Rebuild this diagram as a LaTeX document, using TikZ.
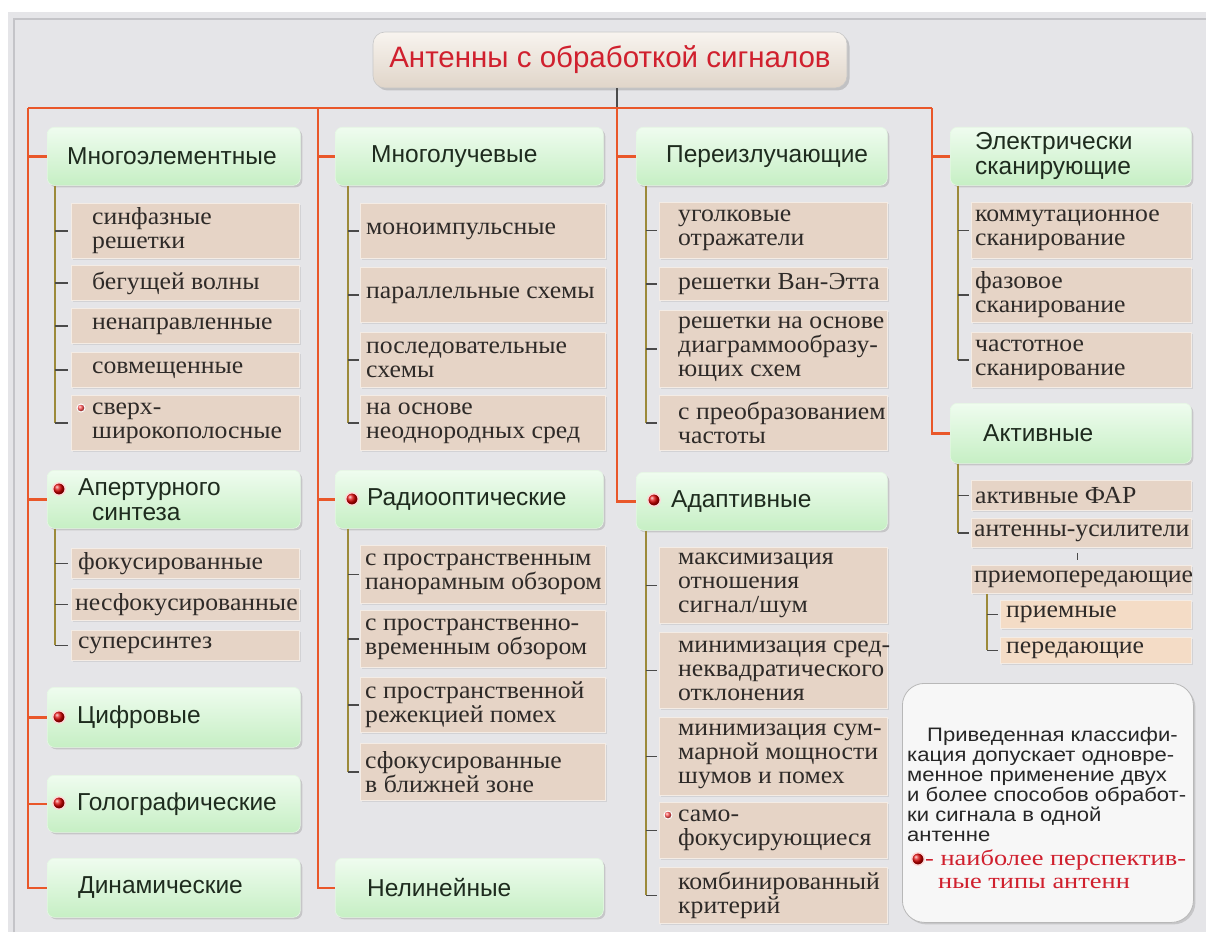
\documentclass[tikz,border=0pt]{standalone}
\usepackage{fontspec}
\setmainfont{Liberation Serif}[FakeStretch=1.05]
\setsansfont{Liberation Sans}
\newfontfamily\notesans{Liberation Sans}[FakeStretch=1.13]
\newfontfamily\noteserif{Liberation Serif}[FakeStretch=1.2]
\usetikzlibrary{shadows,calc}
\definecolor{bgc}{HTML}{E5E5E8}
\definecolor{framec}{HTML}{C4C4C8}
\definecolor{orl}{HTML}{E9572A}
\definecolor{olv}{HTML}{9C8A3A}
\definecolor{stubc}{HTML}{4A4A4A}
\definecolor{leafc}{HTML}{E6D4C6}
\definecolor{leafcb}{HTML}{F4DCC6}
\definecolor{hgtop}{HTML}{EFFCEF}
\definecolor{hgbot}{HTML}{C6EFC4}
\definecolor{htext}{HTML}{1E2B1E}
\definecolor{ttop}{HTML}{F8F4EF}
\definecolor{tbot}{HTML}{E0D5C9}
\definecolor{tred}{HTML}{D0202E}
\definecolor{ltext}{HTML}{2E2A28}
\definecolor{notefill}{HTML}{F7F7F7}
\newcommand\leaffont{\fontsize{24.5}{24}\selectfont}
\newcommand\headfont{\sffamily\fontsize{24.5}{25}\selectfont}
\newcommand\mkleaf[7]{%
  \node[leafbox, minimum width=#4pt, minimum height=#5pt] (#1) at (#2,#3) {};
  \node[leaftxt] (#1t) at ([xshift=#6pt]#1.west) {#7};}
\newcommand\mkleafb[7]{%
  \node[leafbox, fill=leafcb, minimum width=#4pt, minimum height=#5pt] (#1) at (#2,#3) {};
  \node[leaftxt] (#1t) at ([xshift=#6pt]#1.west) {#7};}
\newcommand\mkhead[7]{%
  \node[head, minimum width=#4pt, minimum height=#5pt] (#1) at (#2,#3) {};
  \node[headtxt] (#1t) at ([xshift=#6pt]#1.west) {#7};}
\tikzset{
  head/.style={rounded corners=7pt, top color=hgtop, bottom color=hgbot,
    draw=white!55!hgbot, line width=0.6pt, anchor=north west, inner sep=0pt,
    drop shadow={shadow xshift=2pt, shadow yshift=-2pt, opacity=0.3}},
  headtxt/.style={font=\headfont, text=htext, align=left, inner sep=0pt, anchor=west},
  leafbox/.style={fill=leafc, draw=white!55!leafc, line width=0.8pt, anchor=north west,
    inner sep=0pt, drop shadow={shadow xshift=1.2pt, shadow yshift=-1.2pt, opacity=0.18}},
  leaftxt/.style={font=\leaffont, text=ltext, align=left, inner sep=0pt, anchor=west},
  trunk/.style={draw=orl, line width=2.6pt},
  sub/.style={draw=olv, line width=1.6pt},
  stub/.style={draw=stubc, line width=1.2pt},
  bul/.style={circle, inner sep=0pt, minimum size=12.5pt, ball color=red!85!black,
    draw=white!85!red, line width=1.4pt},
  sbul/.style={circle, inner sep=0pt, minimum size=8pt, ball color=red!70!white,
    draw=white, line width=1pt},
}
\begin{document}
\begin{tikzpicture}[x=1pt,y=-1pt]
\useasboundingbox (0,0) rectangle (1206,936);
% background
\fill[white] (0,0) rectangle (1206,936);
\fill[bgc] (8,12) rectangle (1206,932);
\draw[framec, line width=2.5pt] (14,932) -- (14,19) -- (1206,19);

% title
\node[rounded corners=12pt, top color=ttop, bottom color=tbot, draw=black!22,
  line width=0.6pt, minimum width=474pt, minimum height=56pt, inner sep=0pt,
  drop shadow={shadow xshift=2.5pt, shadow yshift=-2.5pt, opacity=0.35},
  font=\sffamily\fontsize{29.5}{30}\selectfont, text=tred] (title) at (610,60)
  {Антенны с обработкой сигналов};

% ---------- column 1 ----------
\mkhead{mno}{47}{127}{253}{58}{20}{Многоэлементные}
\mkleaf{la}{71}{203}{228}{55}{21}{синфазные\\решетки}
\mkleaf{lb}{71}{265}{228}{35}{21}{бегущей волны}
\mkleaf{lc}{71}{308}{228}{35}{21}{ненаправленные}
\mkleaf{ld}{71}{352}{228}{35}{21}{совмещенные}
\mkleaf{le}{71}{395}{228}{55}{21}{сверх-\\широкополосные}
\mkhead{apt}{47}{470}{253}{58}{31}{Апертурного\\\hspace*{14pt}синтеза}
\mkleaf{lf}{71}{548}{228}{30}{7}{фокусированные}
\mkleaf{lg}{71}{588}{228}{32}{4}{несфокусированные}
\mkleaf{lh}{71}{630}{228}{30}{7}{суперсинтез}
\mkhead{cif}{47}{687}{253}{60}{30}{Цифровые}
\mkhead{gol}{47}{775}{253}{57}{30}{Голографические}
\mkhead{dyn}{47}{858}{253}{59}{31}{Динамические}

% ---------- column 2 ----------
\mkhead{mlu}{335}{127}{268}{58}{36}{Многолучевые}
\mkleaf{ma}{360}{203}{245}{55}{6}{моноимпульсные}
\mkleaf{mb}{360}{267}{245}{55}{6}{параллельные схемы}
\mkleaf{mc}{360}{332}{245}{55}{6}{последовательные\\схемы}
\mkleaf{md}{360}{395}{245}{55}{6}{на основе\\неоднородных сред}
\mkhead{rad}{335}{470}{268}{58}{32}{Радиооптические}
\mkleaf{ra}{360}{545}{245}{58}{5}{с пространственным\\панорамным обзором}
\mkleaf{rb}{360}{610}{245}{57}{5}{с пространственно-\\временным обзором}
\mkleaf{rc}{360}{677}{245}{55}{5}{с пространственной\\режекцией помех}
\mkleaf{rd}{360}{743}{245}{57}{5}{сфокусированные\\в ближней зоне}
\mkhead{nel}{335}{858}{268}{59}{32}{Нелинейные}

% ---------- column 3 ----------
\mkhead{per}{636}{127}{251}{58}{30}{Переизлучающие}
\mkleaf{pa}{659}{202}{228}{56}{19}{уголковые\\отражатели}
\mkleaf{pb}{659}{267}{228}{33}{19}{решетки Ван-Этта}
\mkleaf{pc}{659}{310}{228}{77}{19}{решетки на основе\\диаграммообразу-\\ющих схем}
\mkleaf{pd}{659}{395}{228}{55}{19}{с преобразованием\\частоты}
\mkhead{ada}{636}{472}{251}{58}{35}{Адаптивные}
\mkleaf{aa}{659}{547}{228}{76}{19}{максимизация\\отношения\\сигнал/шум}
\mkleaf{ab}{659}{632}{228}{76}{19}{минимизация сред-\\неквадратического\\отклонения}
\mkleaf{ac}{659}{717}{228}{78}{19}{минимизация сум-\\марной мощности\\шумов и помех}
\mkleaf{ad}{659}{802}{228}{56}{19}{само-\\фокусирующиеся}
\mkleaf{ae}{659}{867}{228}{56}{19}{комбинированный\\критерий}

% ---------- column 4 ----------
\mkhead{ele}{950}{127}{241}{58}{25}{Электрически\\сканирующие}
\mkleaf{ea}{971}{202}{220}{56}{4}{коммутационное\\сканирование}
\mkleaf{eb}{971}{267}{220}{55}{4}{фазовое\\сканирование}
\mkleaf{ec}{971}{332}{220}{55}{4}{частотное\\сканирование}
\mkhead{akt}{950}{403}{241}{60}{33}{Активные}
\mkleaf{ka}{971}{480}{220}{30}{4}{активные ФАР}
\mkleaf{kb}{971}{518}{220}{29}{3}{антенны-усилители}
\mkleaf{kc}{971}{565}{220}{28}{3}{приемопередающие}
\mkleafb{kd}{1000}{600}{191}{28}{6}{приемные}
\mkleafb{ke}{1000}{637}{191}{26}{6}{передающие}

% bullets
\node[bul] (b1) at (59,489) {};
\node[bul] (b2) at (352,499) {};
\node[bul] (b3) at (59,717) {};
\node[bul] (b4) at (59,803) {};
\node[bul] (b5) at (654,500) {};
\node[sbul] (b6) at (81,408) {};
\node[sbul] (b7) at (668,815) {};

% ---------- orange trunks ----------
\coordinate (tL) at (28,108);
\coordinate (t2) at (318,108);
\coordinate (t3) at (617,108);
\coordinate (tR) at (932,108);
\draw[black!70, line width=1.2pt] (title.south -| t3) -- (t3);
\draw[trunk] (tL) -- (tR);
\draw[trunk] (tL) |- (dyn.west);
\draw[trunk] (t2) |- (nel.west);
\draw[trunk] (t3) |- (ada.west);
\draw[trunk] (tR) |- (akt.west);
\foreach \n in {mno,apt,cif,gol} \draw[trunk] (tL |- \n.west) -- (\n.west);
\foreach \n in {mlu,rad} \draw[trunk] (t2 |- \n.west) -- (\n.west);
\draw[trunk] (t3 |- per.west) -- (per.west);
\draw[trunk] (tR |- ele.west) -- (ele.west);

% ---------- sub branches ----------
\coordinate (v1) at (55,0);
\coordinate (v2) at (348,0);
\coordinate (v3) at (646,0);
\coordinate (v4) at (958,0);
\coordinate (v5) at (987,0);
\draw[sub] (v1 |- mno.south) -- (v1 |- le.west);
\draw[sub] (v1 |- apt.south) -- (v1 |- lh.west);
\draw[sub] (v2 |- mlu.south) -- (v2 |- md.west);
\draw[sub] (v2 |- rad.south) -- (v2 |- rd.west);
\draw[sub] (v3 |- per.south) -- (v3 |- pd.west);
\draw[sub] (v3 |- ada.south) -- (v3 |- ae.west);
\draw[sub] (v4 |- ele.south) -- (v4 |- ec.west);
\draw[sub] (v4 |- akt.south) -- (v4 |- kb.west);
\draw[sub] (v5 |- kc.south) -- (v5 |- ke.west);
\foreach \n in {la,lb,lc,ld,le,lf,lg,lh} \draw[stub] (v1 |- \n.west) -- ([xshift=-3pt]\n.west);
\foreach \n in {ma,mb,mc,md,ra,rb,rc,rd} \draw[stub] (v2 |- \n.west) -- ([xshift=-1pt]\n.west);
\foreach \n in {pa,pb,pc,pd,aa,ab,ac,ad,ae} \draw[stub] (v3 |- \n.west) -- ([xshift=-2pt]\n.west);
\foreach \n in {ea,eb,ec,ka,kb} \draw[stub] (v4 |- \n.west) -- ([xshift=-2pt]\n.west);
\foreach \n in {kd,ke} \draw[stub] (v5 |- \n.west) -- ([xshift=-2pt]\n.west);
\draw[stub] ([xshift=-4pt,yshift=-5pt]kb.south) -- ([xshift=-4pt,yshift=5pt]kc.north);

% ---------- note ----------
\node[rounded corners=22pt, fill=notefill, draw=black!28, line width=0.8pt,
  minimum width=291pt, minimum height=239pt, anchor=north west, inner sep=0pt,
  drop shadow={shadow xshift=2pt, shadow yshift=-2pt, opacity=0.3}] (note) at (902,683) {};
\node[anchor=north west, inner sep=0pt, align=left, text=black!85,
  font=\notesans\fontsize{19.5}{20}\selectfont] (notet) at (907,727)
  {\hspace*{20pt}Приведенная классифи-\\кация допускает одновре-\\менное применение двух\\и более способов обработ-\\ки сигнала в одной\\антенне};
\node[bul] (nb) at (918,859) {};
\node[anchor=base west, inner sep=0pt, text=tred, font=\noteserif\fontsize{22}{22}\selectfont]
  (nr1) at (925,865) {- наиболее перспектив-};
\node[anchor=base west, inner sep=0pt, text=tred, font=\noteserif\fontsize{22}{22}\selectfont]
  (nr2) at (938,888) {ные типы антенн};
\end{tikzpicture}
\end{document}
